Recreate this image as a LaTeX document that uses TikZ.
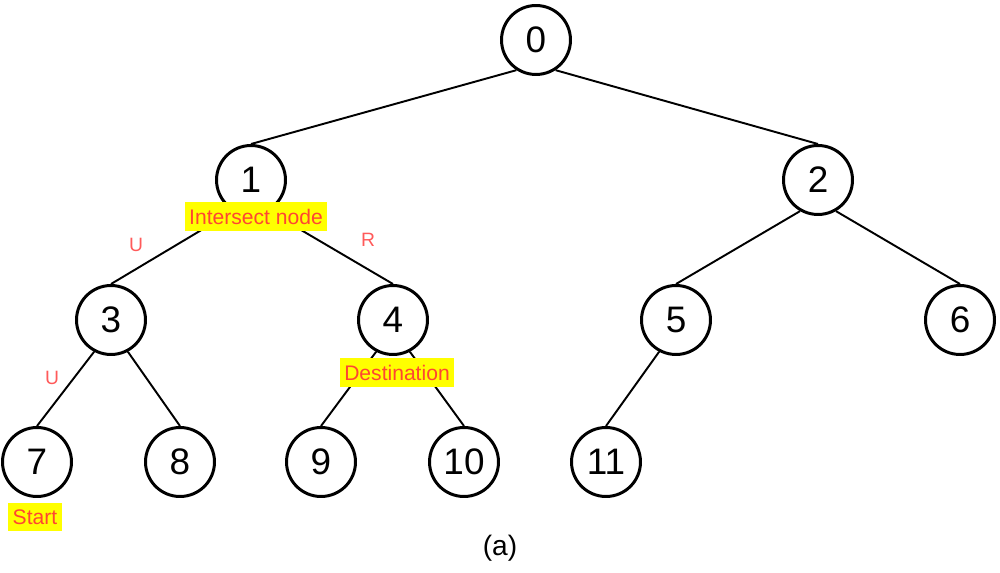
\documentclass[tikz,border=0pt]{standalone}
\usepackage{fontspec}
\setmainfont{Liberation Sans}
\definecolor{lblred}{RGB}{255,70,50}
\definecolor{edgered}{RGB}{255,90,90}
\definecolor{lblyellow}{RGB}{255,255,0}
\begin{document}
\begin{tikzpicture}[x=0.02cm,y=-0.02cm,
  tnode/.style={circle,draw,line width=1.7pt,minimum size=1.38cm,inner sep=0pt,font=\fontsize{21}{21}\selectfont},
  edge/.style={line width=1.1pt},
  tag/.style={fill=lblyellow,text=lblred,inner xsep=2.5pt,inner ysep=0pt,minimum height=0.58cm,font=\fontsize{12}{13}\selectfont},
  dirlab/.style={text=edgered,font=\fontsize{11}{12}\selectfont}]
\useasboundingbox (0,0) rectangle (1000,573);
\node[tnode] (n0) at (536,40) {0};
\node[tnode] (n1) at (251,180) {1};
\node[tnode] (n2) at (818,180) {2};
\node[tnode] (n3) at (111,320) {3};
\node[tnode] (n4) at (393,320) {4};
\node[tnode] (n5) at (676,320) {5};
\node[tnode] (n6) at (960,320) {6};
\node[tnode] (n7) at (37,462) {7};
\node[tnode] (n8) at (180,462) {8};
\node[tnode] (n9) at (321,462) {9};
\node[tnode] (n10) at (464,462) {10};
\node[tnode] (n11) at (606,462) {11};
\draw[edge] (n0.-123) -- (n1.north);
\draw[edge] (n0.-57) -- (n2.north);
\draw[edge] (n1.-120) -- (n3.north);
\draw[edge] (n1.-60) -- (n4.north);
\draw[edge] (n2.-120) -- (n5.north);
\draw[edge] (n2.-60) -- (n6.north);
\draw[edge] (n3.-118) -- (n7.north);
\draw[edge] (n3.-62) -- (n8.north);
\draw[edge] (n4.-118) -- (n9.north);
\draw[edge] (n4.-62) -- (n10.north);
\draw[edge] (n5.-118) -- (n11.north);
\node[tag] (t1) at (256,217) {Intersect node};
\node[tag] (t4) at (397,373) {Destination};
\node[tag] (t7) at (35,517) {Start};
\node[dirlab] (u1) at (136,245) {U};
\node[dirlab] (r1) at (368,240) {R};
\node[dirlab] (u2) at (52,378) {U};
\node[font=\fontsize{16}{17}\selectfont] (cap) at (500,548) {(a)};
\end{tikzpicture}
\end{document}
